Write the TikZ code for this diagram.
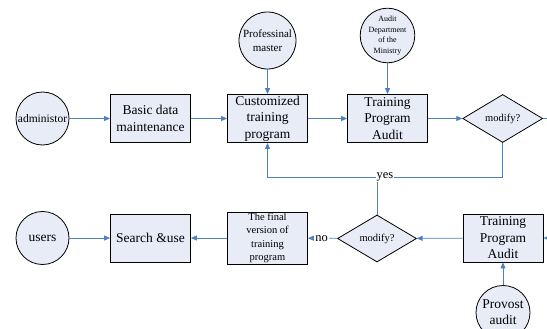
\documentclass[tikz,border=0pt]{standalone}
\usepackage{fontspec}
\setmainfont{Liberation Serif}
\usetikzlibrary{arrows.meta,shapes.geometric}

\definecolor{boxfill}{RGB}{231,236,247}
\definecolor{linkblue}{RGB}{79,129,189}

\begin{document}
\begin{tikzpicture}[x=1pt,y=-1pt,
	proc/.style={draw=black,fill=boxfill,rectangle,line width=0.8pt,
		minimum width=80pt,minimum height=48pt,inner sep=1pt,align=center,
		font=\fontsize{13.5}{16.5}\selectfont},
	actor/.style={draw=black,fill=boxfill,circle,line width=0.8pt,
		minimum size=53pt,inner sep=0pt,align=center,
		font=\fontsize{11.5}{14.3}\selectfont},
	choice/.style={draw=black,fill=boxfill,diamond,line width=0.8pt,
		minimum width=80pt,minimum height=48pt,inner sep=0pt,
		font=\fontsize{10.5}{12.5}\selectfont},
	link/.style={draw=linkblue,line width=0.8pt},
	flow/.style={link,-{Triangle[length=6pt,width=5pt]}},
	answer/.style={fill=white,inner sep=1pt,font=\fontsize{12.5}{14}\selectfont}]

\clip (0,0) rectangle (547,329);

% TOP ROW
\node[actor] (admin) at (42.5,118.5) {administor};
\node[proc] (basic) at (150.5,118.5) {Basic data\\maintenance};
\node[proc] (custom) at (267.5,118.5) {Customized\\training\\program};
\node[actor,minimum size=57pt,font=\fontsize{11}{14.3}\selectfont] (master) at (267.5,40.5) {Professinal\\master};
\node[proc] (audit) at (387.5,118.5) {Training\\Program\\Audit};
\node[actor,minimum size=54pt,font=\fontsize{8}{10.8}\selectfont] (ministry) at (387.5,35.5) {Audit\\Department\\of the\\Ministry};
\node[choice] (modA) at (502.7,118.5) {modify?};
\coordinate (outR) at (547,118.5);

\draw[flow] (admin) -- (basic);
\draw[flow] (basic) -- (custom);
\draw[flow] (master) -- (custom);
\draw[flow] (custom) -- (audit);
\draw[flow] (ministry) -- (audit);
\draw[flow] (audit) -- (modA);
\draw[link] (modA.east) -- (outR);

% BOTTOM ROW
\coordinate (inR) at (547,238);
\node[proc] (auditB) at (503,238) {Training\\Program\\Audit};
\node[actor,minimum size=54pt,font=\fontsize{13.5}{16}\selectfont] (provost) at (503,312.5) {Provost\\audit};
\node[choice,minimum width=79pt,minimum height=47pt] (modB) at (377,238.5) {modify?};
\node[proc,font=\fontsize{10.5}{13.5}\selectfont] (final) at (267.5,238) {The final\\version of\\training\\program};
\node[proc] (search) at (150.5,238) {Search \&use};
\node[actor,font=\fontsize{13.5}{16.5}\selectfont] (users) at (42.5,238) {users};

\draw[flow] (inR) -- (auditB);
\draw[flow] (provost) -- (auditB);
\draw[flow] (auditB) -- (modB);
\draw[flow] (modB) -- (final);
\draw[flow] (final) -- (search);
\draw[flow] (users) -- (search);

% back to customized program
\coordinate (yesC) at (377,177);
\draw[link] (modA.south) |- (yesC);
\draw[flow] (modB.north) -- (yesC) -| (custom.south);
\node[answer] (yes) at (385,177) {yes};
\node[answer] (no) at (321.5,239) {no};
\end{tikzpicture}
\end{document}
